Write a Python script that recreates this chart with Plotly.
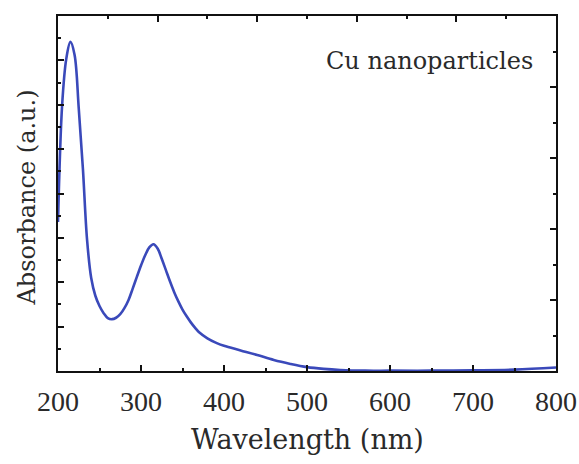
import plotly.graph_objects as go

# UV-Vis absorbance spectrum of Cu nanoparticles
wavelength_nm = [200, 205, 210, 215, 220, 225, 230, 235, 240, 245, 250, 255, 260,
                 265, 270, 275, 280, 285, 290, 295, 300, 305, 310, 315, 320, 325,
                 330, 335, 340, 345, 350, 355, 360, 365, 370, 380, 390, 400, 420,
                 440, 460, 480, 500, 520, 540, 570, 600, 650, 700, 750, 800]
absorbance = [0.42, 0.75, 0.88, 0.927, 0.89, 0.74, 0.57, 0.37, 0.262, 0.212,
              0.183, 0.163, 0.149, 0.146, 0.15, 0.16, 0.177, 0.2, 0.232, 0.265,
              0.297, 0.326, 0.348, 0.357, 0.345, 0.316, 0.284, 0.252, 0.222,
              0.196, 0.173, 0.154, 0.137, 0.122, 0.109, 0.092, 0.08, 0.071,
              0.058, 0.045, 0.031, 0.02, 0.011, 0.006, 0.003, 0.001, 0.001,
              0.001, 0.002, 0.004, 0.01]

x_ticks = [200, 300, 400, 500, 600, 700, 800]
x_tick_labels = ["200", "300", "400", "500", "600", "700", "800"]

SERIF = "DejaVu Serif"
DIGITS = "Liberation Serif"
TEXT = "#2a2a2a"
LINE = "#3a49ba"
AX = "#111"

fig = go.Figure()
fig.add_trace(go.Scatter(
    x=wavelength_nm, y=absorbance, mode="lines",
    line=dict(color=LINE, width=2.6, shape="spline", smoothing=1.0),
    showlegend=False, hoverinfo="skip",
))
# invisible trace that anchors the top/right frame axes
fig.add_trace(go.Scatter(x=[0, 10], y=[0, 10], xaxis="x2", yaxis="y2",
                         mode="markers", marker=dict(opacity=0),
                         showlegend=False, hoverinfo="skip"))

axis_common = dict(showgrid=False, zeroline=False, showline=True,
                   linecolor=AX, linewidth=2, ticks="inside",
                   tickcolor=AX, tickwidth=2, ticklen=6, automargin=False)
minor_common = dict(ticks="inside", ticklen=3, tickwidth=2, tickcolor=AX)

fig.update_layout(
    width=579, height=464,
    margin=dict(l=58, r=23, t=16, b=93),
    paper_bgcolor="white", plot_bgcolor="white",
    font=dict(family=SERIF, color=TEXT),
    xaxis=dict(range=[200, 800], tickmode="array", tickvals=x_ticks,
               ticktext=x_tick_labels,
               tickfont=dict(size=28, color=TEXT, family=DIGITS),
               ticklabelstandoff=4,
               minor=dict(dtick=50, **minor_common),
               **axis_common),
    yaxis=dict(range=[0, 1], tickmode="linear", tick0=0, dtick=0.125,
               showticklabels=False,
               minor=dict(dtick=0.0625, **minor_common),
               **axis_common),
    xaxis2=dict(range=[0, 10], overlaying="x", side="top", anchor="y2",
                tickmode="linear", tick0=0, dtick=2, showticklabels=False,
                minor=dict(dtick=1, **minor_common),
                **axis_common),
    yaxis2=dict(range=[0, 10], overlaying="y", side="right", anchor="x2",
                tickmode="linear", tick0=0, dtick=2, showticklabels=False,
                minor=dict(dtick=1, **minor_common),
                **axis_common),
    annotations=[
        dict(text="Cu nanoparticles", xref="paper", yref="paper",
             x=0.958, y=0.872, xanchor="right", yanchor="middle",
             showarrow=False, font=dict(size=24, color=TEXT, family=SERIF)),
        dict(text="Wavelength (nm)", xref="paper", yref="paper",
             x=0.502, y=-0.194, xanchor="center", yanchor="middle",
             showarrow=False, font=dict(size=27, color=TEXT, family=SERIF)),
        dict(text="Absorbance (a.u.)", xref="paper", yref="paper",
             x=-0.062, y=0.489, xanchor="center", yanchor="middle",
             textangle=-90, showarrow=False,
             font=dict(size=24, color=TEXT, family=SERIF)),
    ],
)

fig.write_html("out.html")
